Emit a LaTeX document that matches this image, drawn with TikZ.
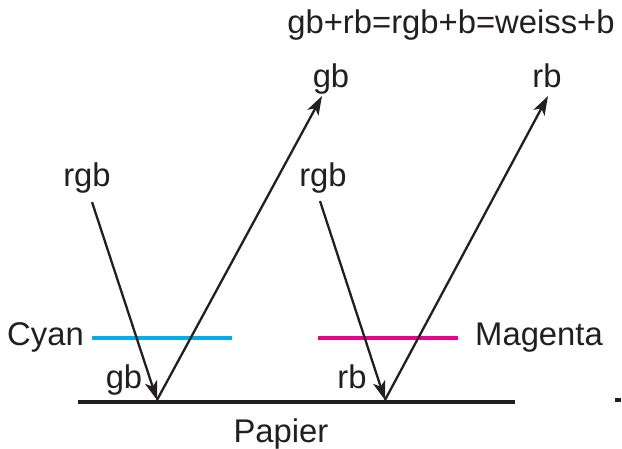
\documentclass[tikz,border=0pt]{standalone}
\usepackage{fontspec}
\setmainfont{Liberation Sans}
\usetikzlibrary{arrows.meta}
\definecolor{ink}{HTML}{231F20}
\definecolor{cyanc}{HTML}{00AEEF}
\definecolor{magc}{HTML}{EC008C}
\tikzset{
  lbl/.style={text=ink, inner sep=0pt, anchor=base, font=\fontsize{32.8}{36}\selectfont},
  ray/.style={draw=ink, line width=2.3pt, -{Stealth[length=19pt,width=12.5pt,inset=5pt]}},
  filter/.style={line width=4.5pt},
  paper/.style={draw=ink, line width=4.8pt}
}
\begin{document}
\begin{tikzpicture}[x=1pt,y=-1pt]
\useasboundingbox (0,0) rectangle (622,448);
% paper and filters
\coordinate (pa) at (78,402);
\coordinate (pb) at (515,402);
\draw[paper] (pa) -- (pb);
\coordinate (ca) at (92,338);
\coordinate (cb) at (232,338);
\draw[filter, draw=cyanc] (ca) -- (cb);
\coordinate (ma) at (318,338);
\coordinate (mb) at (458,338);
\draw[filter, draw=magc] (ma) -- (mb);
\fill[ink] (615,398) rectangle (621,402);
% rays
\coordinate (s1) at (92,202);
\coordinate (p1) at (157,400);
\coordinate (t1) at (322,96);
\coordinate (s2) at (320,201);
\coordinate (p2) at (385,400);
\coordinate (t2) at (548,96);
\draw[ray] (s1) -- (p1);
\draw[ray] (p1) -- (t1);
\draw[ray] (s2) -- (p2);
\draw[ray] (p2) -- (t2);
% labels
\node[lbl] (formula) at (451,33) {gb+rb=rgb+b=weiss+b};
\node[lbl] (gbtop) at (331,87) {gb};
\node[lbl] (rbtop) at (547,87) {rb};
\node[lbl] (rgb1) at (87,186) {rgb};
\node[lbl] (rgb2) at (323,186) {rgb};
\node[lbl, anchor=base west] (cyan) at (7,345) {Cyan};
\node[lbl, anchor=base west] (magenta) at (475,345) {Magenta};
\node[lbl] (gbbot) at (124,388) {gb};
\node[lbl] (rbbot) at (352,388) {rb};
\node[lbl] (papier) at (281,442) {Papier};
\end{tikzpicture}
\end{document}
